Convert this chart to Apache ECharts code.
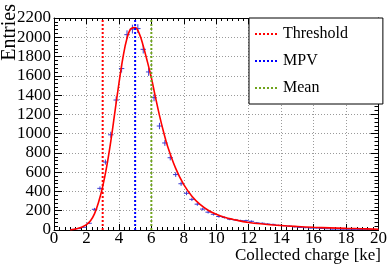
<!DOCTYPE html>
<html><head><meta charset="utf-8">
<script src="https://cdn.jsdelivr.net/npm/echarts@6/dist/echarts.min.js"></script>
<style>html,body{margin:0;padding:0;background:#fff}#c{width:390px;height:265px}</style>
</head><body><div id="c"></div>
<script>
// ---- data ----
const BIN_WIDTH = 1 / 3;               // histogram bin width [ke]
const counts = [0, 0, 0, 6, 14, 28, 70, 215, 432, 705,
  988, 1349, 1675, 2027, 2085, 2090, 1875, 1640, 1373, 1079,
  903, 750, 575, 480, 381, 318, 268, 217, 185, 163,
  140, 130, 112, 105, 97, 97, 90, 74, 70, 62,
  58, 48, 45, 40, 33, 26, 24, 20, 20, 16,
  13, 9, 10, 8, 7, 6, 5, 4, 4, 3];
const fitX = [1.0, 1.25, 1.5, 1.75, 2.0, 2.25, 2.5, 2.75, 3.0, 3.25, 3.5, 3.75, 4.0, 4.25, 4.5, 4.75, 5.0,
  5.25, 5.5, 5.75, 6.0, 6.25, 6.5, 6.75, 7.0, 7.5, 8.0, 8.5, 9.0, 9.5, 10, 10.5, 11, 12, 13, 14, 15, 16, 17, 18, 19, 20];
const fitY = [0, 8, 18, 32, 55, 95, 170, 290, 450, 660, 920, 1220, 1520, 1790, 1990, 2090, 2100,
  2040, 1910, 1750, 1580, 1380, 1190, 1020, 870, 640, 470, 350, 265, 205, 163, 133, 112, 78, 60, 46, 36, 28, 22, 17, 13, 8];
const markerNames = ['Threshold', 'MPV', 'Mean'];
const markerX = [3.0, 5.0, 6.0];
const markerColors = ['#ff0000', '#0000ff', '#6fa31c'];
const xRange = [0, 20], xStep = 2;
const yRange = [0, 2200], yStep = 200;
const xTitle = 'Collected charge [ke]';
const yTitle = 'Entries';

const binCenters = counts.map((_, i) => (i + 0.5) * BIN_WIDTH);
const histData = counts.map((c, i) => [binCenters[i], c]);
const fitData = fitX.map((x, i) => [x, fitY[i]]);

const FONT = 'Liberation Serif';
const POINT_COLOR = '#3c3cd2';

const chart = echarts.init(document.getElementById('c'), null, { renderer: 'canvas' });

function axisBase(pos, labels, isX) {
  return {
    type: 'value',
    position: pos,
    min: isX ? xRange[0] : yRange[0],
    max: isX ? xRange[1] : yRange[1],
    interval: isX ? xStep : yStep,
    axisLine: { show: true, onZero: false, lineStyle: { color: '#000', width: 1 } },
    axisTick: { show: true, inside: true, length: isX ? 6 : 8, lineStyle: { color: '#000', width: 1 } },
    minorTick: { show: true, splitNumber: isX ? 6 : 5, length: isX ? 3 : 4, lineStyle: { color: '#000', width: 1 } },
    axisLabel: labels ? {
      show: true, color: '#000', fontFamily: FONT, fontSize: 17, lineHeight: 14, margin: isX ? 2 : 3,
      formatter: function (v) { return String(v); }
    } : { show: false },
    splitLine: labels ? { show: true, lineStyle: { color: '#9a9a9a', type: [1, 2], width: 1 } } : { show: false },
    minorSplitLine: { show: false }
  };
}

const markerSeries = markerNames.map((name, i) => ({
  name: name,
  type: 'line',
  data: [[markerX[i], yRange[0]], [markerX[i], yRange[1]]],
  symbol: 'none',
  z: 5,
  lineStyle: { color: markerColors[i], width: 2, type: [2, 2] },
  itemStyle: { color: markerColors[i] },
  silent: true
}));

chart.setOption({
  animation: false,
  backgroundColor: '#fff',
  grid: { left: 54, right: 9, top: 18, bottom: 35, containLabel: false },
  xAxis: [axisBase('bottom', true, true), axisBase('top', false, true)],
  yAxis: [axisBase('left', true, false), axisBase('right', false, false)],
  legend: {
    data: markerNames,
    orient: 'vertical',
    left: 249, top: 18,
    padding: [7, 35, 7, 5],
    itemWidth: 23, itemHeight: 10, itemGap: 9,
    backgroundColor: '#fff',
    borderColor: '#000', borderWidth: 1, borderRadius: 0,
    itemStyle: { color: 'rgba(0,0,0,0)', borderWidth: 0 },
    textStyle: { fontFamily: FONT, fontSize: 16, color: '#000', lineHeight: 18 },
    selectedMode: false
  },
  series: [
    {
      type: 'custom',
      name: 'data',
      data: histData,
      z: 2,
      clip: true,
      renderItem: function (params, api) {
        const x = api.value(0), y = api.value(1);
        if (!(y > 0)) return null;
        const e = Math.sqrt(y);
        const l = api.coord([x - BIN_WIDTH / 2, y]);
        const r = api.coord([x + BIN_WIDTH / 2, y]);
        const t = api.coord([x, y + e]);
        const b = api.coord([x, y - e]);
        const st = { stroke: POINT_COLOR, lineWidth: 1 };
        return {
          type: 'group', children: [
            { type: 'line', shape: { x1: l[0], y1: l[1], x2: r[0], y2: r[1] }, style: st },
            { type: 'line', shape: { x1: t[0], y1: t[1], x2: b[0], y2: b[1] }, style: st }
          ]
        };
      }
    },
    {
      type: 'line',
      name: 'fit',
      data: fitData,
      symbol: 'none',
      smooth: 0.4,
      z: 3,
      lineStyle: { color: '#ff0000', width: 1.6 }
    }
  ].concat(markerSeries),
  graphic: [
    {
      type: 'text', right: 9, top: 247,
      style: { text: xTitle, fontFamily: FONT, fontSize: 17, lineHeight: 15, fill: '#000' }
    },
    {
      type: 'text', x: 0, y: 4, rotation: Math.PI / 2,
      style: { text: yTitle, fontFamily: FONT, fontSize: 20, fill: '#000', align: 'right', verticalAlign: 'top' }
    }
  ]
});
</script>
</body></html>
